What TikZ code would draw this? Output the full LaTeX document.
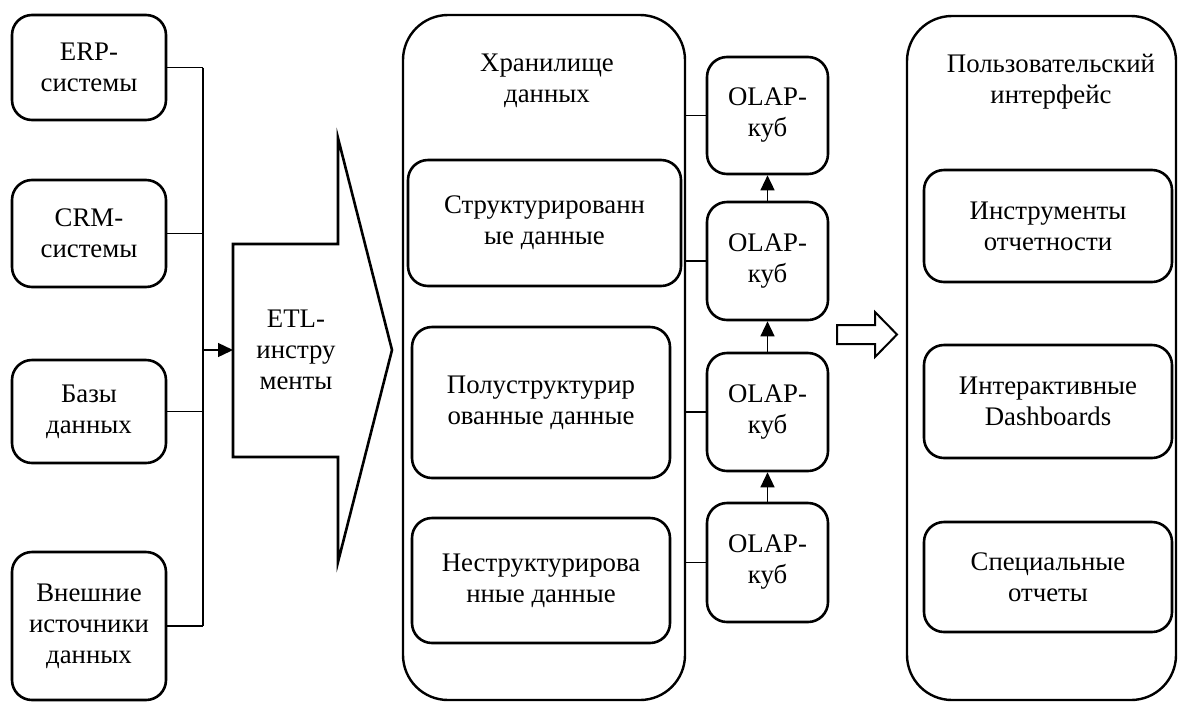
\documentclass[tikz,border=0pt]{standalone}
\usepackage{fontspec}
\setmainfont{Liberation Serif}
\usetikzlibrary{arrows.meta}
\tikzset{
  txt/.style={font=\fontsize{26.8}{31}\selectfont, align=center, inner sep=0pt},
  box/.style={txt, draw, line width=2.6pt, rounded corners=20pt},
  bigbox/.style={draw, line width=2.4pt, rounded corners=45pt, inner sep=0pt},
  conn/.style={line width=1.4pt},
  arr/.style={line width=1.4pt, -{Triangle[length=15pt,width=14pt]}},
}
\begin{document}
\begin{tikzpicture}[x=1pt,y=-1pt]
\useasboundingbox (0,0) rectangle (1182,702);

% sources
\node[box, minimum width=154pt, minimum height=105pt] (erp) at (89,67.5) {ERP-\\системы};
\node[box, minimum width=154pt, minimum height=107pt] (crm) at (89,233.5) {CRM-\\системы};
\node[box, minimum width=154pt, minimum height=103pt] (db) at (89,411.5) {Базы\\данных};
\node[box, minimum width=154pt, minimum height=148pt] (ext) at (89,626) {Внешние\\источники\\данных};

\coordinate (bus) at (203,0);
\coordinate (etlL) at (233,350);
\draw[conn] (erp.east) -- (erp.east -| bus);
\draw[conn] (crm.east) -- (crm.east -| bus);
\draw[conn] (db.east) -- (db.east -| bus);
\draw[conn] (ext.east) -- (ext.east -| bus);
\draw[conn] (erp.east -| bus) -- (ext.east -| bus);
\draw[arr] (bus |- etlL) -- (etlL);

% ETL arrow shape
\draw[line width=2.6pt, line join=miter] (233,244) -- (338,244) -- (338,138) -- (392,350) -- (338,562) -- (338,457) -- (233,457) -- cycle;
\node[txt] (etl) at (296,350) {ETL-\\инстру\\менты};

% storage
\node[bigbox, minimum width=282pt, minimum height=685pt] (dw) at (544,357.5) {};
\node[txt] (dwt) at (547,81) {Хранилище\\данных};
\node[box, minimum width=273pt, minimum height=126pt] (s1) at (544.5,223) {Структурированн\\ые данные};
\node[box, minimum width=258pt, minimum height=151pt] (s2) at (541,402.5) {Полуструктурир\\ованные данные};
\node[box, minimum width=258pt, minimum height=125pt] (s3) at (541,580.5) {Неструктурирова\\нные данные};

% OLAP
\node[box, minimum width=121pt, minimum height=117pt] (o1) at (767.5,115.5) {OLAP-\\куб};
\node[box, minimum width=121pt, minimum height=118pt] (o2) at (767.5,261) {OLAP-\\куб};
\node[box, minimum width=121pt, minimum height=118pt] (o3) at (767.5,412) {OLAP-\\куб};
\node[box, minimum width=121pt, minimum height=119pt] (o4) at (767.5,562.5) {OLAP-\\куб};

\draw[conn] (o1.west -| dw.east) -- (o1.west);
\draw[conn] (o2.west -| dw.east) -- (o2.west);
\draw[conn] (o3.west -| dw.east) -- (o3.west);
\draw[conn] (o4.west -| dw.east) -- (o4.west);
\draw[arr] (o2.north) -- (o1.south);
\draw[arr] (o3.north) -- (o2.south);
\draw[arr] (o4.north) -- (o3.south);

% hollow arrow
\draw[line width=2pt, line join=miter] (837,325) -- (875,325) -- (875,312) -- (897,334.5) -- (875,357) -- (875,344) -- (837,344) -- cycle;

% user interface
\node[bigbox, minimum width=269pt, minimum height=684pt] (ui) at (1041.5,358) {};
\node[txt] (uit) at (1051,81.5) {Пользовательский\\интерфейс};
\node[box, minimum width=248pt, minimum height=112pt] (u1) at (1048,226) {Инструменты\\отчетности};
\node[box, minimum width=248pt, minimum height=113pt] (u2) at (1048,401.5) {Интерактивные\\Dashboards};
\node[box, minimum width=248pt, minimum height=110pt] (u3) at (1048,577) {Специальные\\отчеты};
\end{tikzpicture}
\end{document}
